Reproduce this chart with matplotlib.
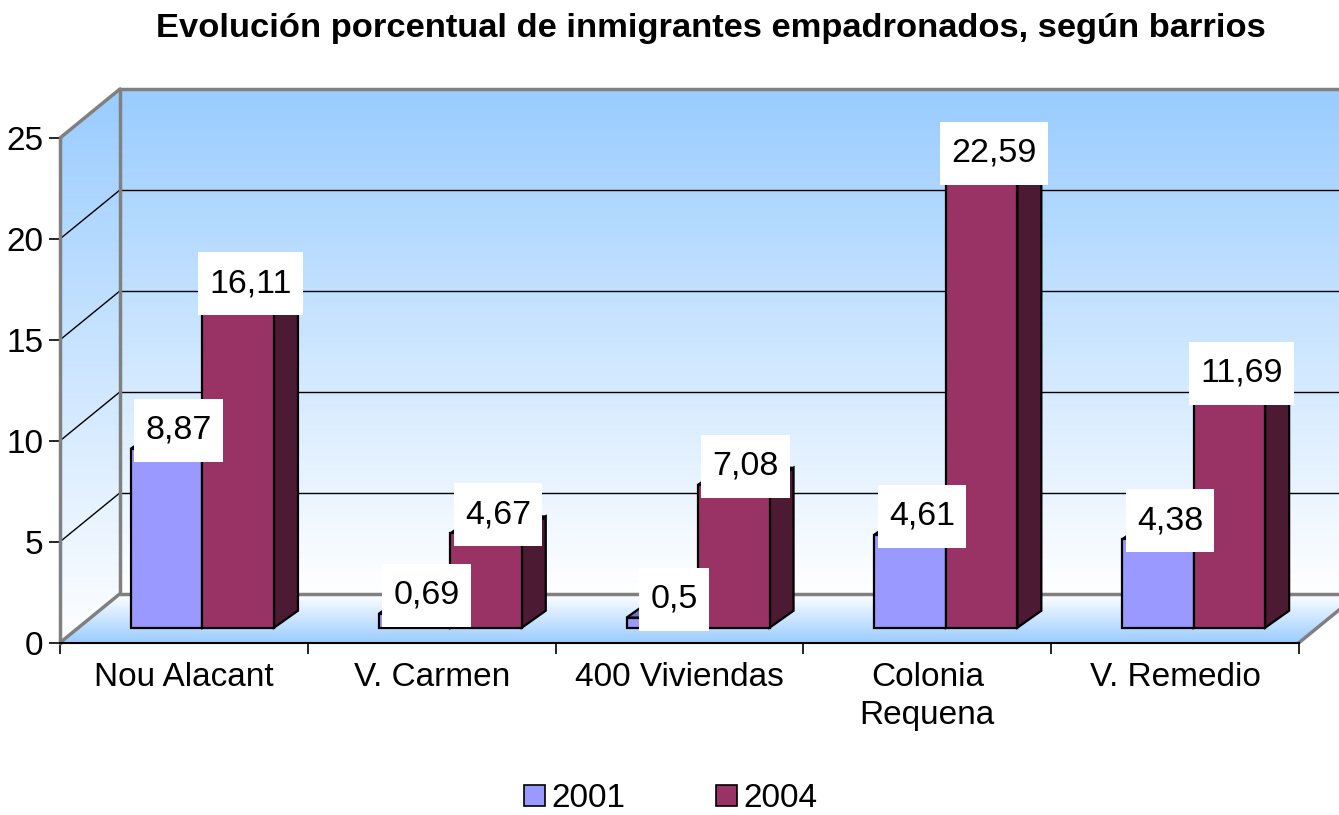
import numpy as np
import matplotlib
matplotlib.use('Agg')
import matplotlib.pyplot as plt
from matplotlib.patches import Polygon, Patch
from matplotlib.path import Path
from matplotlib.transforms import IdentityTransform
from matplotlib.colors import to_rgb

# data
barrios = ['Nou Alacant', 'V. Carmen', '400 Viviendas', 'Colonia\nRequena', 'V. Remedio']
anios = ['2001', '2004']
v2001 = [8.87, 0.69, 0.5, 4.61, 4.38]
v2004 = [16.11, 4.67, 7.08, 22.59, 11.69]
yticks = [0, 5, 10, 15, 20, 25]
titulo = 'Evolución porcentual de inmigrantes empadronados, según barrios'

col_front = ['#9999FF', '#993366']
col_top = ['#7373C6', '#7A2952']
col_side = ['#5C5C99', '#4D1A33']

plt.rcParams['font.family'] = ['Liberation Sans', 'DejaVu Sans']

DPI = 100
fig = plt.figure(figsize=(13.39, 8.15), dpi=DPI)
ax_bg = fig.add_axes([0, 0, 1, 1], zorder=0)
ax_bg.axis('off')
ax = fig.add_axes([0.0448, 0.2114, 0.9253, 0.6193], zorder=1)
ax.patch.set_visible(False)
n = len(barrios)
ax.set_xlim(0, n)
ax.set_ylim(0, yticks[-1])
ax.set_autoscale_on(False)

# 3d offsets in pixels
WALL = np.array([60.0, 49.0])
BAR_OFF = np.array([15.0, 15.0])
BAR_D = np.array([24.0, 17.0])
ident = IdentityTransform()


def wall_pt(x, v, d):
    return ax.transData.transform((x, v)) + d * WALL


def bar_pt(x, v, d):
    return ax.transData.transform((x, v)) + BAR_OFF + d * BAR_D


def label_box(x0, y0, width, height, mutation_size):
    # excel style label box: more room above/below than at the sides
    px, py = 0.33 * mutation_size, 0.47 * mutation_size
    x0, y0 = x0 - px, y0 - py
    x1, y1 = x0 + width + 2 * px, y0 + height + 2 * py
    return Path([(x0, y0), (x1, y0), (x1, y1), (x0, y1), (x0, y0)], closed=True)


def gradient(poly, c_top, c_bot):
    poly = np.array(poly)
    c0 = np.array(to_rgb(c_bot))
    c1 = np.array(to_rgb(c_top))
    t = np.linspace(0, 1, 256)[:, None, None]
    img = c0 + (c1 - c0) * t
    im = ax_bg.imshow(img, extent=(poly[:, 0].min(), poly[:, 0].max(),
                                   poly[:, 1].min(), poly[:, 1].max()),
                      origin='lower', transform=ident, aspect='auto',
                      interpolation='bilinear', zorder=0)
    clip = Polygon(poly, closed=True, transform=ident, fc='none', ec='none')
    ax_bg.add_patch(clip)
    im.set_clip_path(clip)


def seg(p, q, **kw):
    ax_bg.plot([p[0], q[0]], [p[1], q[1]], transform=ident, **kw)


top = yticks[-1]
back = [wall_pt(0, 0, 1), wall_pt(n, 0, 1), wall_pt(n, top, 1), wall_pt(0, top, 1)]
left = [wall_pt(0, 0, 0), wall_pt(0, 0, 1), wall_pt(0, top, 1), wall_pt(0, top, 0)]
floor = [wall_pt(0, 0, 0), wall_pt(n, 0, 0), wall_pt(n, 0, 1), wall_pt(0, 0, 1)]
gradient(back, '#99CCFF', '#FFFFFF')
gradient(left, '#99CCFF', '#FFFFFF')
gradient(floor, '#FFFFFF', '#99CCFF')

# gridlines
for v in yticks[1:-1]:
    seg(wall_pt(0, v, 1), wall_pt(n, v, 1), color='black', lw=1, zorder=1)
    seg(wall_pt(0, v, 0), wall_pt(0, v, 1), color='black', lw=1, zorder=1)

# wall edges
edge = dict(color='#808080', lw=2.5, zorder=2, solid_capstyle='round')
seg(wall_pt(0, 0, 1), wall_pt(0, top, 1), **edge)
seg(wall_pt(0, top, 1), wall_pt(n, top, 1), **edge)
seg(wall_pt(0, 0, 1), wall_pt(n, 0, 1), **edge)
seg(wall_pt(0, top, 0), wall_pt(0, top, 1), **edge)
seg(wall_pt(0, 0, 0), wall_pt(0, 0, 1), **edge)
seg(wall_pt(n, 0, 0), wall_pt(n, 0, 1), **edge)

# bars
bw = 0.2885
start = 0.226
for i in range(n):
    for s, vals in enumerate([v2001, v2004]):
        v = vals[i]
        x0 = i + start + s * bw
        x1 = x0 + bw
        faces = [
            ([bar_pt(x1, 0, 0), bar_pt(x1, 0, 1), bar_pt(x1, v, 1), bar_pt(x1, v, 0)], col_side[s]),
            ([bar_pt(x0, v, 0), bar_pt(x1, v, 0), bar_pt(x1, v, 1), bar_pt(x0, v, 1)], col_top[s]),
            ([bar_pt(x0, 0, 0), bar_pt(x1, 0, 0), bar_pt(x1, v, 0), bar_pt(x0, v, 0)], col_front[s]),
        ]
        for pts, c in faces:
            ax.add_patch(Polygon(pts, closed=True, transform=ident, fc=c,
                                 ec='black', lw=1.6, joinstyle='miter',
                                 clip_on=False, zorder=3))

# data labels
for i in range(n):
    for s, vals in enumerate([v2001, v2004]):
        v = vals[i]
        xc = i + start + s * bw + bw / 2
        p = bar_pt(xc, v, 0.5) + np.array([0, 10])
        ax.text(p[0], p[1], f'{v:g}'.replace('.', ','), transform=ident,
                ha='center', va='center', fontsize=24.5, zorder=5,
                bbox=dict(boxstyle=label_box, fc='white', ec='none'))

# axes
for sp in ['top', 'right']:
    ax.spines[sp].set_visible(False)
ax.spines['left'].set_color('#808080')
ax.spines['left'].set_linewidth(2.5)
ax.spines['bottom'].set_color('black')
ax.spines['bottom'].set_linewidth(1.5)
ax.set_yticks(yticks)
ax.tick_params(axis='y', direction='out', length=8, width=1.2, labelsize=24, pad=4)
ax.set_xticks(range(n + 1))
ax.set_xticklabels([])
ax.tick_params(axis='x', which='major', direction='out', length=8, width=1.2)
ax.set_xticks(np.arange(n) + 0.5, minor=True)
ax.set_xticklabels(barrios, minor=True, fontsize=24, linespacing=1.3)
ax.tick_params(axis='x', which='minor', length=0, pad=14)

fig.text(0.531, 0.9542, titulo, ha='center', va='baseline', fontsize=24.8,
         fontweight='bold')

handles = [Patch(fc=col_front[k], ec='black', lw=1.2, label=anios[k]) for k in range(2)]
fig.legend(handles=handles, loc='center', bbox_to_anchor=(0.501, 0.02), ncol=2,
           frameon=False, fontsize=24, handlelength=0.63, handleheight=0.63,
           handletextpad=0.2, columnspacing=2.7, borderaxespad=0, borderpad=0)

fig.savefig('out.png', dpi=DPI)
